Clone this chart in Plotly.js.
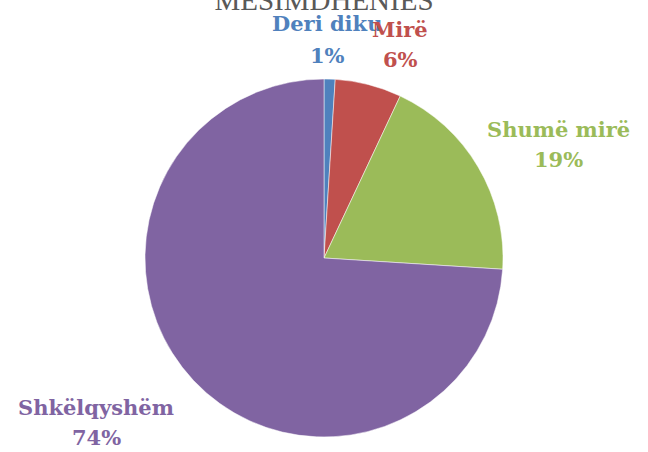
<!DOCTYPE html>
<html>
<head>
<meta charset="utf-8">
<script src="https://cdn.plot.ly/plotly-3.0.1.min.js"></script>
<style>html,body{margin:0;padding:0;background:#fff;}#chart{width:648px;height:452px;}</style>
</head>
<body>
<div id="chart"></div>
<script>
const categories = ["Deri diku", "Mirë", "Shumë mirë", "Shkëlqyshëm"];
const values = [1, 6, 19, 74];
const colors = ["#4F81BD", "#C0504D", "#9BBB59", "#8064A2"];
const titleText = "MËSIMDHËNIES";

// label positions in pixels: x center, y center of name line, y center of percent line
const labelPos = [
  {x: 327, yName: 23, yPct: 55},
  {x: 400, yName: 30, yPct: 60},
  {x: 558, yName: 129, yPct: 159},
  {x: 96, yName: 407, yPct: 437}
];

const total = values.reduce((a, b) => a + b, 0);
const annotations = [];
categories.forEach((c, i) => {
  const base = {
    xref: "paper", yref: "paper",
    x: labelPos[i].x / 648,
    xanchor: "center", yanchor: "middle",
    showarrow: false,
    font: {family: "DejaVu Serif, serif", size: 21, color: colors[i]}
  };
  annotations.push(Object.assign({}, base, {y: 1 - labelPos[i].yName / 452, text: "<b>" + c + "</b>"}));
  annotations.push(Object.assign({}, base, {y: 1 - labelPos[i].yPct / 452, text: "<b>" + Math.round(values[i] / total * 100) + "%</b>"}));
});

const data = [{
  type: "pie",
  labels: categories,
  values: values,
  sort: false,
  direction: "clockwise",
  rotation: 0,
  marker: {colors: colors, line: {color: "#ffffff", width: 0.5}},
  textinfo: "none",
  hoverinfo: "label+percent",
  domain: {x: [145/648, 503/648], y: [1 - 437/452, 1 - 79/452]}
}];

const layout = {
  width: 648, height: 452,
  margin: {l: 0, r: 0, t: 0, b: 0},
  paper_bgcolor: "#ffffff",
  showlegend: false,
  title: {
    text: titleText,
    font: {family: "Liberation Serif, DejaVu Serif, serif", size: 29, color: "#595959"},
    x: 0.5, xanchor: "center",
    y: 1, yanchor: "middle"
  },
  annotations: annotations
};

Plotly.newPlot("chart", data, layout, {displayModeBar: false, staticPlot: true});
</script>
</body>
</html>
